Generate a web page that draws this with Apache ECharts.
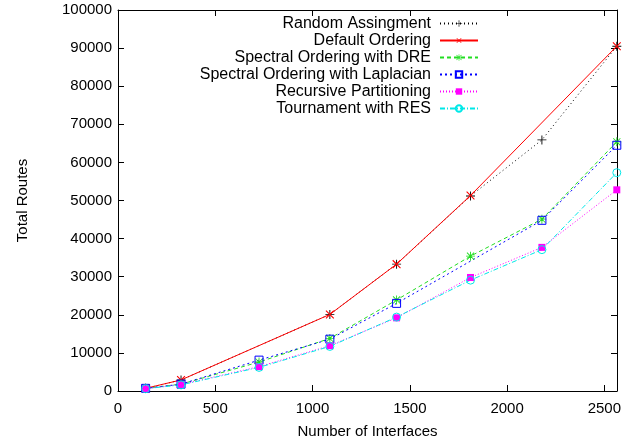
<!DOCTYPE html>
<html>
<head>
<meta charset="utf-8">
<script src="https://cdn.jsdelivr.net/npm/echarts@6/dist/echarts.min.js"></script>
<style>
  html, body { margin: 0; padding: 0; background: #fff; }
  #chart { width: 637px; height: 442px; }
</style>
</head>
<body>
<div id="chart"></div>
<script>
// Number of interfaces (x values shared by all series)
const interfaces = [142, 324, 725, 1089, 1432, 1812, 2179, 2564];

// Total routes per ordering method (null = no measurement at that size)
const randomAssignment   = [700, 2900, null, 20100, 33300, 51200, 65900, 90500];
const defaultOrdering    = [700, 2900, null, 20100, 33300, 51300, null, 90500];
const spectralDRE        = [700, 1800, 7600, 13800, 23900, 35400, 45100, 65400];
const spectralLaplacian  = [700, 1800, 8100, 13600, 23000, null, 44800, 64500];
const recursivePartition = [600, 1700, 6400, 11900, 19200, 29800, 37700, 52800];
const tournamentRES      = [600, 1600, 6200, 11700, 19400, 29100, 37100, 57300];

const seriesNames = [
  'Random Assingment',
  'Default Ordering',
  'Spectral Ordering with DRE',
  'Spectral Ordering with Laplacian',
  'Recursive Partitioning',
  'Tournament with RES'
];

const xTicks = [0, 500, 1000, 1500, 2000, 2500];
const yTicks = [0, 10000, 20000, 30000, 40000, 50000, 60000, 70000, 80000, 90000, 100000];

// Marker shapes (thin strokes drawn as filled outlines)
const PLUS = 'path://M4.5,0h1v4.5h4.5v1h-4.5v4.5h-1v-4.5h-4.5v-1h4.5z';
const STAR = 'path://M4.5,0h1v4.5h4.5v1h-4.5v4.5h-1v-4.5h-4.5v-1h4.5z M1.4,0.7L5,4.3L8.6,0.7L9.3,1.4L5.7,5L9.3,8.6L8.6,9.3L5,5.7L1.4,9.3L0.7,8.6L4.3,5L0.7,1.4z';

function pairs(ys) {
  const out = [];
  ys.forEach((y, i) => { if (y !== null) out.push([interfaces[i], y]); });
  return out;
}

const styles = [
  { data: randomAssignment,   color: '#000000', type: [1, 3],       symbol: PLUS,   size: 9,  rotate: 0,  fill: null },
  { data: defaultOrdering,    color: '#ff0000', type: 'solid',      symbol: PLUS,   size: 11, rotate: 45, fill: null },
  { data: spectralDRE,        color: '#22dd22', type: [4, 3],       symbol: STAR,   size: 9,  rotate: 0,  fill: null },
  { data: spectralLaplacian,  color: '#0000ff', type: [2, 3],       symbol: 'rect', size: 8,  rotate: 0,  fill: 'rgba(255,255,255,0)' },
  { data: recursivePartition, color: '#ff00ff', type: [1, 2],       symbol: 'rect', size: 7,  rotate: 0,  fill: null },
  { data: tournamentRES,      color: '#00e8e8', type: [5, 2, 1, 2], symbol: 'circle', size: 8, rotate: 0, fill: 'rgba(255,255,255,0)' }
];

const series = styles.map((s, i) => ({
  name: seriesNames[i],
  type: 'line',
  data: pairs(s.data),
  xAxisIndex: 0,
  yAxisIndex: 0,
  symbol: s.symbol,
  symbolSize: s.size,
  symbolRotate: s.rotate,
  showAllSymbol: true,
  animation: false,
  lineStyle: { color: s.color, width: 1, type: s.type },
  itemStyle: s.fill
    ? { color: s.fill, borderColor: s.color, borderWidth: 1 }
    : { color: s.color, borderWidth: 0 }
}));

const fontFamily = 'Liberation Sans, Arial, sans-serif';
const labelStyle = { color: '#000', fontSize: 15, fontFamily: fontFamily };

const chart = echarts.init(document.getElementById('chart'), null, { renderer: 'canvas' });

const baseX = {
  type: 'value', min: 0, max: 2565, interval: 500,
  splitLine: { show: false },
  axisLine: { show: true, onZero: false, lineStyle: { color: '#000', width: 1 } },
  axisTick: { show: true, inside: true, length: 6, lineStyle: { color: '#000' } }
};
const baseY = {
  type: 'value', min: 0, max: 100000, interval: 10000,
  splitLine: { show: false },
  axisLine: { show: true, onZero: false, lineStyle: { color: '#000', width: 1 } },
  axisTick: { show: true, inside: true, length: 6, lineStyle: { color: '#000' } }
};

chart.setOption({
  backgroundColor: '#fff',
  animation: false,
  grid: { left: 118, right: 20, top: 10, bottom: 51, show: false, containLabel: false, outerBoundsMode: 'none' },
  legend: {
    orient: 'vertical',
    right: 153,
    top: 10,
    align: 'right',
    itemWidth: 38,
    itemHeight: 8,
    itemGap: 0,
    textStyle: { color: '#000', fontSize: 16, fontFamily: fontFamily, lineHeight: 17, padding: [0, 4, 0, 0] },
    data: seriesNames
  },
  xAxis: [
    Object.assign({}, baseX, {
      position: 'bottom',
      name: 'Number of Interfaces',
      nameLocation: 'middle',
      nameGap: 33,
      nameTextStyle: labelStyle,
      axisLabel: Object.assign({}, labelStyle, {
        margin: 10,
        formatter: v => (xTicks.indexOf(v) >= 0 ? String(v) : '')
      })
    }),
    Object.assign({}, baseX, {
      position: 'top',
      axisLabel: { show: false }
    })
  ],
  yAxis: [
    Object.assign({}, baseY, {
      position: 'left',
      name: 'Total Routes',
      nameLocation: 'middle',
      nameGap: 88,
      nameRotate: 90,
      nameTextStyle: labelStyle,
      axisLabel: Object.assign({}, labelStyle, {
        margin: 6,
        formatter: v => (yTicks.indexOf(v) >= 0 ? String(v) : '')
      })
    }),
    Object.assign({}, baseY, {
      position: 'right',
      axisLabel: { show: false }
    })
  ],
  series: series
});
</script>
</body>
</html>
